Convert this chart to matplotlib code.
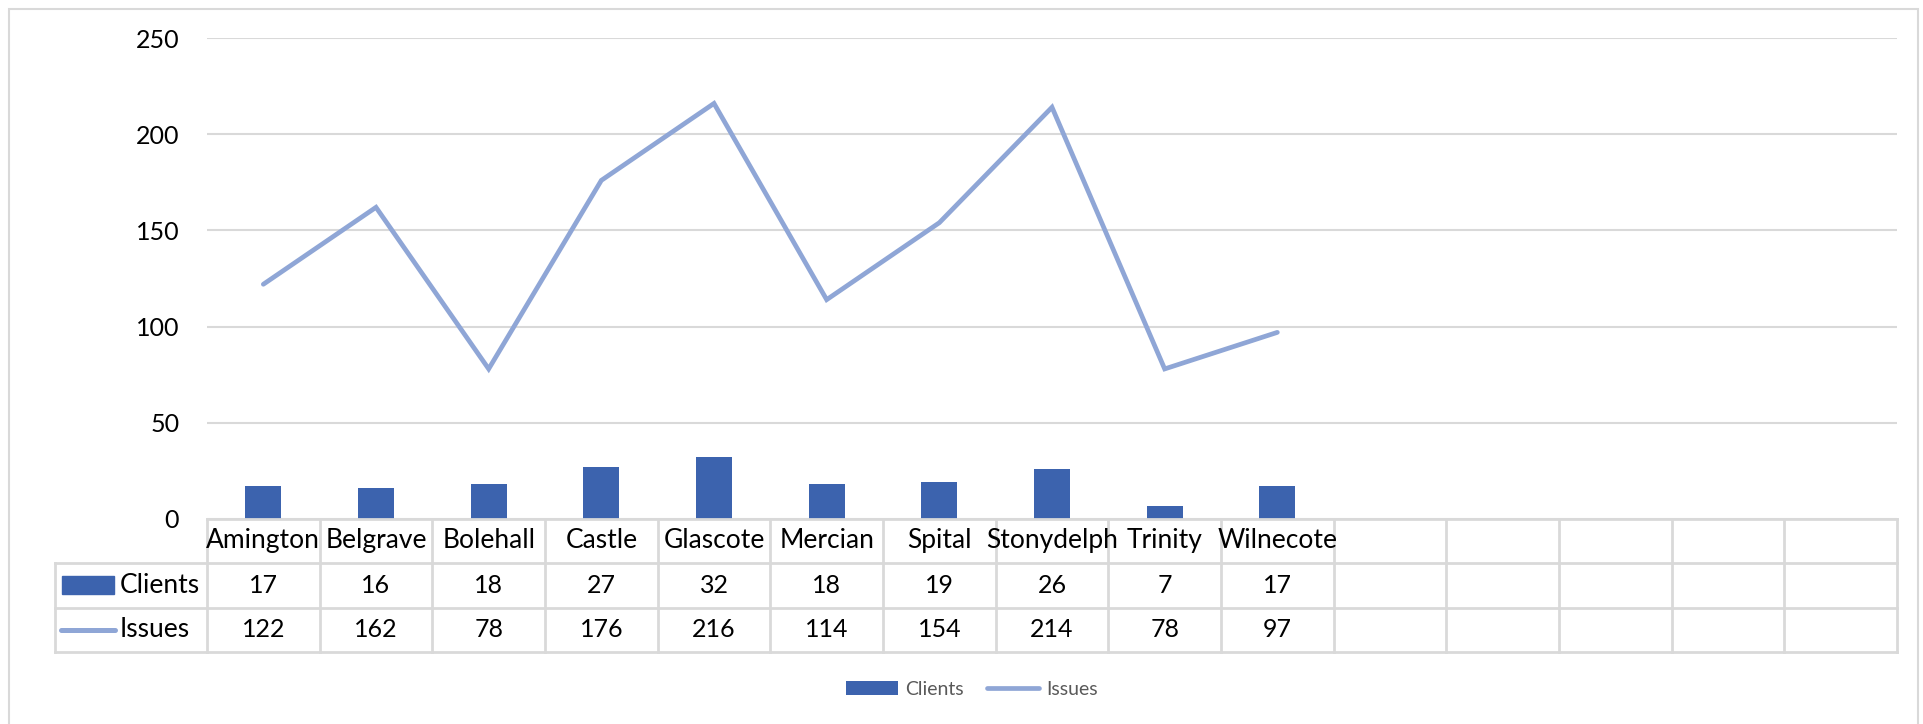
import matplotlib
matplotlib.use("Agg")
from matplotlib import pyplot as plt
from matplotlib.patches import Rectangle
from matplotlib.lines import Line2D
import matplotlib.transforms as mtransforms

plt.rcParams['font.family'] = ['Lato', 'DejaVu Sans']

areas = ['Amington', 'Belgrave', 'Bolehall', 'Castle', 'Glascote', 'Mercian',
         'Spital', 'Stonydelph', 'Trinity', 'Wilnecote']
clients = [17, 16, 18, 27, 32, 18, 19, 26, 7, 17]
issues = [122, 162, 78, 176, 216, 114, 154, 214, 78, 97]
n_slots = 15  # the chart keeps 5 empty categories on the right
yticks = [0, 50, 100, 150, 200, 250]

bar_col = '#3C63AE'
line_col = '#8FA6D6'
grid_col = '#D9D9D9'

fig = plt.figure(figsize=(19.24, 7.24), dpi=100)
ax = fig.add_axes([207 / 1924, 205 / 724, 1690 / 1924, 481 / 724])

x = list(range(len(areas)))
bars = ax.bar(x, clients, width=0.32, color=bar_col, zorder=2, label='Clients')
line, = ax.plot(x, issues, color=line_col, linewidth=3.4, solid_capstyle='round',
                solid_joinstyle='miter', zorder=3, label='Issues')

ax.set_xlim(-0.5, n_slots - 0.5)
ax.set_ylim(0, 250)
ax.set_yticks(yticks)
ax.set_yticklabels([str(t) for t in yticks], fontsize=18)
ax.tick_params(axis='y', length=0, pad=20)
ax.set_xticks([])
ax.grid(axis='y', color=grid_col, linewidth=1.5, zorder=0)
for s in ['top', 'right', 'left']:
    ax.spines[s].set_visible(False)
ax.spines['bottom'].set_color(grid_col)
ax.spines['bottom'].set_linewidth(2)

# data table under the plot
tr = mtransforms.blended_transform_factory(ax.transData, ax.transAxes)
y_head, y_cli, y_iss = -0.0909, -0.1844, -0.2759
left_x = -0.0899
lw = 2
for k in range(n_slots + 1):
    ax.add_line(Line2D([k - 0.5, k - 0.5], [0, y_iss], transform=tr, color=grid_col,
                       lw=lw, clip_on=False))
ax.add_line(Line2D([left_x, left_x], [y_head, y_iss], transform=ax.transAxes,
                   color=grid_col, lw=lw, clip_on=False))
for yy in [y_head, y_cli, y_iss]:
    ax.add_line(Line2D([left_x, 1], [yy, yy], transform=ax.transAxes, color=grid_col,
                       lw=lw, clip_on=False))

for i, name in enumerate(areas):
    ax.text(i, -0.0457, name, transform=tr, ha='center', va='center', fontsize=19)
    ax.text(i, (y_head + y_cli) / 2, str(clients[i]), transform=tr, ha='center',
            va='center', fontsize=18)
    ax.text(i, (y_cli + y_iss) / 2, str(issues[i]), transform=tr, ha='center',
            va='center', fontsize=18)

yc = (y_head + y_cli) / 2
yi = (y_cli + y_iss) / 2
ax.add_patch(Rectangle((-0.0858, yc - 0.0187), 0.0308, 0.0373, transform=ax.transAxes,
                       color=bar_col, clip_on=False))
ax.add_line(Line2D([-0.0862, -0.0546], [yi, yi], transform=ax.transAxes, color=line_col,
                   lw=3.6, solid_capstyle='round', clip_on=False))
ax.text(-0.0515, yc, 'Clients', transform=ax.transAxes, ha='left', va='center', fontsize=19)
ax.text(-0.0515, yi, 'Issues', transform=ax.transAxes, ha='left', va='center', fontsize=19)

leg = fig.legend(handles=[bars, line], labels=['Clients', 'Issues'], loc='center',
                 bbox_to_anchor=(0.505, 0.048), ncol=2, frameon=False,
                 fontsize=14, handlelength=2.7, handleheight=0.75, columnspacing=1.2,
                 handletextpad=0.35)
for t in leg.get_texts():
    t.set_color('#595959')

# chart border
fig.add_artist(Rectangle((9 / 1924, -0.05), 1909 / 1924, 1.05 - 9 / 724,
                         transform=fig.transFigure, fill=False, edgecolor=grid_col,
                         linewidth=1.5))

fig.savefig('out.png', dpi=100)
